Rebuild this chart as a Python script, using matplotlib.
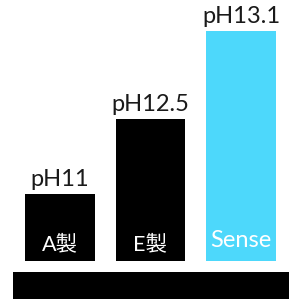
import matplotlib
matplotlib.use("Agg")
import matplotlib.pyplot as plt
from matplotlib.patches import Rectangle

categories = ["A製", "E製", "Sense"]
values = [67, 142, 230]
top_labels = ["pH11", "pH12.5", "pH13.1"]
colors = ["#000000", "#000000", "#4DD8FB"]

plt.rcParams['font.family'] = ['Lato', 'Noto Sans CJK JP', 'DejaVu Sans']

fig = plt.figure(figsize=(2.99, 3.0), dpi=100)
ax = fig.add_axes([0, 39 / 300, 1, 261 / 300])
x = list(range(len(categories)))
bars = ax.bar(x, values, width=0.773, color=colors)
ax.set_xlim(-0.663, 2.641)
ax.set_ylim(0, 261)
ax.axis('off')

for xi, v, lab, cat in zip(x, values, top_labels, categories):
    ax.annotate(lab, (xi, v), xytext=(0, 3), textcoords='offset points',
                ha='center', va='bottom', fontsize=17, color='#1a1a1a')
    ax.annotate(cat, (xi, 0), xytext=(0, 7.5 if cat != "Sense" else 10),
                textcoords='offset points',
                ha='center', va='baseline', fontsize=17 if cat == "Sense" else 15.5,
                color='white')

fig.patches.append(Rectangle((13 / 299, 1 / 300), 276 / 299, 27 / 300,
                             transform=fig.transFigure, facecolor='black',
                             edgecolor='none', zorder=0))

fig.savefig("out.png", dpi=100, facecolor='white')
